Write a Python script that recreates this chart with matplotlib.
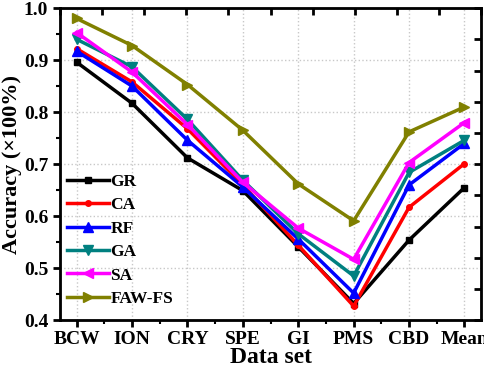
import matplotlib
matplotlib.use("Agg")
import matplotlib.pyplot as plt
from matplotlib.ticker import MultipleLocator
import numpy as np

plt.rcParams['font.family'] = ['Liberation Serif', 'DejaVu Serif']
plt.rcParams['font.weight'] = 'bold'

datasets = ['BCW', 'ION', 'CRY', 'SPE', 'GI', 'PMS', 'CBD', 'Mean']

gr = [0.896, 0.817, 0.712, 0.649, 0.541, 0.432, 0.554, 0.655]
ca = [0.922, 0.858, 0.768, 0.660, 0.544, 0.427, 0.617, 0.701]
rf = [0.917, 0.850, 0.746, 0.656, 0.556, 0.452, 0.660, 0.740]
ga = [0.940, 0.887, 0.786, 0.669, 0.566, 0.485, 0.684, 0.746]
sa = [0.953, 0.877, 0.776, 0.665, 0.577, 0.517, 0.703, 0.780]
faw = [0.980, 0.928, 0.853, 0.765, 0.662, 0.591, 0.762, 0.810]

series = [
    ('GR', gr, 'black', 's'),
    ('CA', ca, 'red', 'o'),
    ('RF', rf, 'blue', '^'),
    ('GA', ga, '#008080', 'v'),
    ('SA', sa, 'magenta', '<'),
    ('FAW-FS', faw, '#808000', '>'),
]

fig = plt.figure(figsize=(4.84, 3.68), dpi=100)
ax = fig.add_axes([0.124, 0.130, 0.870, 0.848])

x = np.arange(len(datasets))
for name, vals, color, marker in series:
    ms = 4 if marker in ('s', 'o') else 7
    ax.plot(x, vals, color=color, marker=marker, markersize=ms, linewidth=2.5, label=name)

ax.set_xlim(-0.3, 7.3)
ax.set_ylim(0.4, 1.0)
ax.set_xticks(x)
ax.set_xticklabels(datasets)
ax.xaxis.set_minor_locator(MultipleLocator(0.5))
ax.yaxis.set_major_locator(MultipleLocator(0.1))
ax.yaxis.set_minor_locator(MultipleLocator(0.05))
ax.tick_params(axis='both', which='major', direction='out', length=5, width=2, labelsize=14)
ax.tick_params(axis='both', which='minor', direction='out', length=3, width=1.5)
ax.tick_params(axis='x', which='major', pad=3)
ax.grid(True, which='major', linestyle=':', color='#c8c8c8', linewidth=1)
for s in ax.spines.values():
    s.set_linewidth(2)

ax.set_xlabel('Data set', fontsize=17, fontweight='bold', labelpad=-1)
ax.set_ylabel('Accuracy (×100%)', fontsize=16, fontweight='bold', labelpad=1)

# mirrored frame ticks on top and right (inward, unlabeled)
ax_r = ax.twinx()
ax_r.set_ylim(0, 10)
ax_r.set_yticks(range(11))
ax_r.tick_params(axis='y', direction='in', length=5, width=2, labelright=False)
ax_t = ax.twiny()
ax_t.set_xlim(0, 10)
ax_t.set_xticks(range(11))
ax_t.tick_params(axis='x', direction='in', length=5, width=2, labeltop=False)

leg = ax.legend(loc='lower left', frameon=False, fontsize=12.5, handlelength=2.4,
                handletextpad=0.1, labelspacing=0.42, borderaxespad=0.0,
                bbox_to_anchor=(0.0, 0.02))

fig.savefig('out.png', dpi=100)
